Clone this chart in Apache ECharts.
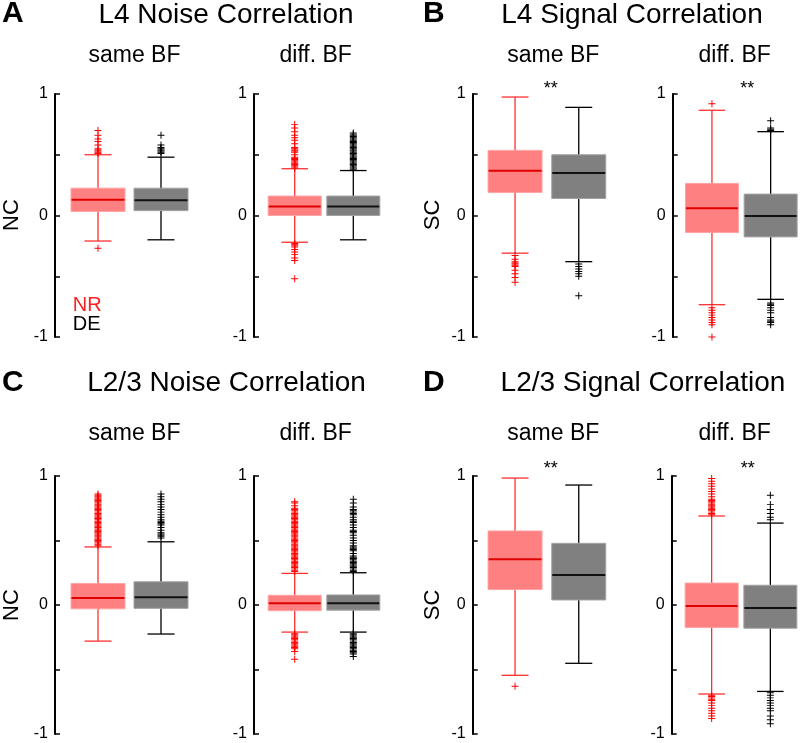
<!DOCTYPE html>
<html><head><meta charset="utf-8">
<script src="https://cdn.jsdelivr.net/npm/echarts@6/dist/echarts.min.js"></script>
<style>html,body{margin:0;padding:0;background:#fff}#c{width:800px;height:743px}</style>
</head><body><div id="c"></div>
<script>
// ---------- DATA ----------
const panelLetters = ['A', 'B', 'C', 'D'];
const panelTitles = ['L4 Noise Correlation', 'L4 Signal Correlation', 'L2/3 Noise Correlation', 'L2/3 Signal Correlation'];
const yNames = ['NC', 'SC', 'NC', 'SC'];
const subTitles = ['same BF', 'diff. BF'];
const groups = ['NR', 'DE'];
const yTickLabels = [-1, 0, 1];

// box stats: [lower whisker, q1, median, q3, upper whisker]
const A_same_NR = [-0.21, 0.033, 0.13, 0.225, 0.50];
const A_same_DE = [-0.20, 0.04, 0.125, 0.225, 0.48];
const A_diff_NR = [-0.22, 0.0, 0.075, 0.16, 0.385];
const A_diff_DE = [-0.20, 0.0, 0.075, 0.16, 0.37];
const B_same_NR = [-0.31, 0.19, 0.368, 0.536, 0.975];
const B_same_DE = [-0.38, 0.14, 0.35, 0.50, 0.89];
const B_diff_NR = [-0.734, -0.14, 0.06, 0.264, 0.866];
const B_diff_DE = [-0.69, -0.176, -0.005, 0.176, 0.69];
const C_same_NR = [-0.28, -0.03, 0.054, 0.166, 0.45];
const C_same_DE = [-0.225, -0.026, 0.06, 0.18, 0.49];
const C_diff_NR = [-0.21, -0.044, 0.013, 0.075, 0.245];
const C_diff_DE = [-0.21, -0.04, 0.013, 0.078, 0.25];
const D_same_NR = [-0.545, 0.12, 0.354, 0.574, 0.984];
const D_same_DE = [-0.452, 0.039, 0.233, 0.478, 0.93];
const D_diff_NR = [-0.69, -0.175, -0.008, 0.17, 0.69];
const D_diff_DE = [-0.67, -0.18, -0.023, 0.153, 0.635];

// outliers
const A_same_NR_out = [0.51, 0.52, 0.53, 0.54, 0.55, 0.58, 0.61, 0.63, 0.66, 0.70, -0.27];
const A_same_DE_out = [0.51, 0.52, 0.53, 0.54, 0.55, 0.56, 0.58, 0.66];
const A_diff_NR_out = [0.39, 0.40, 0.41, 0.42, 0.43, 0.44, 0.45, 0.46, 0.47, 0.48, 0.50, 0.52, 0.53, 0.54, 0.55, 0.56, 0.59, 0.62, 0.64, 0.66, 0.69, 0.72, 0.75,
  -0.23, -0.24, -0.25, -0.26, -0.28, -0.30, -0.32, -0.35, -0.37, -0.52];
const A_diff_DE_out = [0.38, 0.39, 0.40, 0.41, 0.42, 0.43, 0.44, 0.45, 0.46, 0.47, 0.48, 0.49, 0.50, 0.51, 0.52, 0.53, 0.54, 0.55, 0.56, 0.57, 0.58, 0.59, 0.60, 0.61, 0.62, 0.63, 0.64, 0.65, 0.66, 0.67, 0.68];
const B_same_NR_out = [-0.33, -0.36, -0.38, -0.39, -0.40, -0.41, -0.42, -0.45, -0.48, -0.51, -0.55];
const B_same_DE_out = [-0.40, -0.42, -0.44, -0.46, -0.48, -0.50, -0.66];
const B_diff_NR_out = [0.92, -0.76, -0.78, -0.80, -0.82, -0.84, -0.86, -0.88, -0.90, -1.0];
const B_diff_DE_out = [0.70, 0.71, 0.72, 0.78, -0.72, -0.73, -0.74, -0.76, -0.78, -0.80, -0.84, -0.86, -0.87, -0.88, -0.90];
const C_same_NR_out = [0.46, 0.47, 0.48, 0.49, 0.50, 0.51, 0.52, 0.53, 0.54, 0.55, 0.56, 0.57, 0.58, 0.59, 0.60, 0.61, 0.62, 0.63, 0.64, 0.65, 0.66, 0.67, 0.68, 0.69, 0.70, 0.71, 0.72, 0.73, 0.74, 0.75, 0.76, 0.77, 0.78, 0.79, 0.80, 0.81, 0.82, 0.83, 0.84, 0.85, 0.86];
const C_same_DE_out = [0.52, 0.53, 0.54, 0.55, 0.56, 0.58, 0.60, 0.62, 0.63, 0.64, 0.65, 0.66, 0.68, 0.70, 0.72, 0.74, 0.76, 0.78, 0.80, 0.82, 0.84, 0.86];
const C_diff_NR_out = [0.26, 0.27, 0.28, 0.29, 0.30, 0.31, 0.32, 0.33, 0.34, 0.35, 0.36, 0.37, 0.38, 0.39, 0.40, 0.41, 0.42, 0.43, 0.44, 0.45, 0.46, 0.47, 0.48, 0.49, 0.50,
  0.51, 0.52, 0.53, 0.54, 0.55, 0.56, 0.57, 0.58, 0.59, 0.60, 0.61, 0.62, 0.63, 0.64, 0.65, 0.66, 0.67, 0.68, 0.69, 0.70, 0.71, 0.72, 0.73, 0.74, 0.75, 0.77, 0.79, 0.80,
  -0.22, -0.23, -0.24, -0.25, -0.26, -0.27, -0.28, -0.29, -0.30, -0.31, -0.32, -0.33, -0.34, -0.36, -0.42];
const C_diff_DE_out = [0.26, 0.27, 0.28, 0.29, 0.30, 0.31, 0.32, 0.33, 0.34, 0.35, 0.36, 0.37, 0.38, 0.40, 0.42, 0.43, 0.44, 0.45, 0.46, 0.48, 0.50, 0.52, 0.54, 0.56, 0.57,
  0.58, 0.60, 0.62, 0.64, 0.65, 0.66, 0.68, 0.70, 0.71, 0.72, 0.73, 0.74, 0.76, 0.79, 0.82,
  -0.22, -0.23, -0.24, -0.25, -0.26, -0.27, -0.28, -0.29, -0.30, -0.31, -0.32, -0.33, -0.34, -0.35, -0.36, -0.37, -0.38, -0.40];
const D_same_NR_out = [-0.63];
const D_same_DE_out = [];
const D_diff_NR_out = [0.70, 0.71, 0.72, 0.73, 0.74, 0.75, 0.76, 0.77, 0.78, 0.79, 0.80, 0.81, 0.82, 0.84, 0.86, 0.88, 0.90, 0.92, 0.94, 0.96, 0.98,
  -0.70, -0.71, -0.72, -0.73, -0.74, -0.76, -0.78, -0.80, -0.82, -0.84, -0.86, -0.88];
const D_diff_DE_out = [0.66, 0.68, 0.71, 0.74, 0.78, 0.85, -0.68, -0.70, -0.72, -0.74, -0.76, -0.78, -0.80, -0.82, -0.86, -0.89, -0.92];

// significance marks (subplot index)
const starSubplots = [2, 3, 6, 7];

// ---------- LAYOUT ----------
const subplots = [
  {stats: [A_same_NR, A_same_DE], out: [A_same_NR_out, A_same_DE_out]},
  {stats: [A_diff_NR, A_diff_DE], out: [A_diff_NR_out, A_diff_DE_out]},
  {stats: [B_same_NR, B_same_DE], out: [B_same_NR_out, B_same_DE_out]},
  {stats: [B_diff_NR, B_diff_DE], out: [B_diff_NR_out, B_diff_DE_out]},
  {stats: [C_same_NR, C_same_DE], out: [C_same_NR_out, C_same_DE_out]},
  {stats: [C_diff_NR, C_diff_DE], out: [C_diff_NR_out, C_diff_DE_out]},
  {stats: [D_same_NR, D_same_DE], out: [D_same_NR_out, D_same_DE_out]},
  {stats: [D_diff_NR, D_diff_DE], out: [D_diff_NR_out, D_diff_DE_out]}
];
const geo = [
  {left: 66.5, width: 126, top: 94, height: 243, offset: 11.5, bw: 54},
  {left: 265.4, width: 117.2, top: 94, height: 243, offset: 11.4, bw: 53},
  {left: 483.2, width: 127.4, top: 94, height: 243, offset: 10.5, bw: 54},
  {left: 682.6, width: 117.4, top: 94, height: 243, offset: 9.9, bw: 53},
  {left: 66.5, width: 126, top: 476, height: 258, offset: 11.5, bw: 54},
  {left: 265.4, width: 117.2, top: 476, height: 258, offset: 11.4, bw: 53},
  {left: 483.2, width: 127.4, top: 476, height: 258, offset: 10.5, bw: 54},
  {left: 682.3, width: 117.4, top: 476, height: 258, offset: 10.6, bw: 53}
];

const FONT = '"Liberation Sans", Arial, Helvetica, sans-serif';
const styles = [
  {fill: '#ff8080', edge: '#ffa3a3', whisker: '#ff3030', median: '#e00000', out: '#ff0000'},
  {fill: '#808080', edge: '#a3a3a3', whisker: '#000000', median: '#111111', out: '#000000'}
];
const PLUS = 'path://M4.3,0H5.7V4.3H10V5.7H5.7V10H4.3V5.7H0V4.3H4.3Z';

const grids = [], xAxes = [], yAxes = [], series = [];
subplots.forEach((sp, i) => {
  const g = geo[i];
  grids.push({left: g.left, top: g.top, width: g.width, height: g.height, containLabel: false, outerBoundsMode: 'none'});
  xAxes.push({type: 'category', gridIndex: i, data: groups, show: false, boundaryGap: true});
  yAxes.push({
    type: 'value', gridIndex: i, min: -1, max: 1, interval: 0.5, offset: g.offset,
    axisLine: {show: true, onZero: false, lineStyle: {color: '#000', width: 2}},
    axisTick: {show: true, inside: true, length: 5, lineStyle: {color: '#000', width: 1.5}},
    splitLine: {show: false},
    axisLabel: {
      fontSize: 16, color: '#000', fontFamily: FONT, margin: 7,
      formatter: v => (yTickLabels.indexOf(v) >= 0 ? String(v) : '')
    }
  });
  const bw = g.bw;
  series.push({
    type: 'custom', xAxisIndex: i, yAxisIndex: i, z: 2,
    encode: {x: 0, y: [1, 2, 3, 4, 5]},
    data: sp.stats.map((s, k) => [k].concat(s)),
    renderItem: function (params, api) {
      const k = api.value(0);
      const st = styles[k];
      const lo = api.coord([k, api.value(1)]);
      const q1 = api.coord([k, api.value(2)]);
      const md = api.coord([k, api.value(3)]);
      const q3 = api.coord([k, api.value(4)]);
      const hi = api.coord([k, api.value(5)]);
      const cx = lo[0];
      const cw = bw / 2;
      const lw = {stroke: st.whisker, lineWidth: 1.3};
      return {type: 'group', children: [
        {type: 'line', shape: {x1: cx, y1: hi[1], x2: cx, y2: lo[1]}, style: lw},
        {type: 'line', shape: {x1: cx - cw / 2, y1: hi[1], x2: cx + cw / 2, y2: hi[1]}, style: lw},
        {type: 'line', shape: {x1: cx - cw / 2, y1: lo[1], x2: cx + cw / 2, y2: lo[1]}, style: lw},
        {type: 'rect', shape: {x: cx - bw / 2, y: q3[1], width: bw, height: q1[1] - q3[1]},
          style: {fill: st.fill, stroke: st.edge, lineWidth: 1}},
        {type: 'line', shape: {x1: cx - bw / 2 + 0.5, y1: md[1], x2: cx + bw / 2 - 0.5, y2: md[1]},
          style: {stroke: st.median, lineWidth: 2}}
      ]};
    }
  });
  sp.out.forEach((arr, k) => {
    if (!arr.length) return;
    series.push({
      type: 'scatter', xAxisIndex: i, yAxisIndex: i, z: 3,
      symbol: PLUS, symbolSize: 7, symbolKeepAspect: true,
      itemStyle: {color: styles[k].out, opacity: 1},
      data: arr.map(v => [k, v]),
      silent: true, animation: false
    });
  });
});

// ---------- TEXT ----------
const graphic = [];
const letterPos = [[2, 14], [423, 14], [2, 383], [423, 383]];
const titlePos = [[226, 15], [632, 15], [226.5, 383], [643, 383]];
const yNamePos = [[12, 215], [433, 215], [12, 605], [433, 605]];
const subPos = [[134.5, 56], [315.7, 56], [553.3, 56], [734.7, 56], [134.5, 434], [315.7, 434], [553.3, 434], [734.7, 434]];
const starPos = {2: [550.7, 80], 3: [747.3, 80], 6: [550.7, 460], 7: [747.7, 460]};

panelLetters.forEach((L, p) => {
  graphic.push({type: 'text', x: letterPos[p][0], y: letterPos[p][1],
    style: {text: L, font: 'bold 30px ' + FONT, fill: '#000', textAlign: 'left', textVerticalAlign: 'middle'}});
  graphic.push({type: 'text', x: titlePos[p][0], y: titlePos[p][1],
    style: {text: panelTitles[p], font: '28px ' + FONT, fill: '#000', textAlign: 'center', textVerticalAlign: 'middle'}});
  graphic.push({type: 'text', x: yNamePos[p][0], y: yNamePos[p][1], rotation: Math.PI / 2,
    style: {text: yNames[p], font: '22px ' + FONT, fill: '#000', textAlign: 'center', textVerticalAlign: 'middle'}});
});
subPos.forEach((pos, i) => {
  graphic.push({type: 'text', x: pos[0], y: pos[1],
    style: {text: subTitles[i % 2], font: '23px ' + FONT, fill: '#000', textAlign: 'center', textVerticalAlign: 'middle'}});
});
starSubplots.forEach(i => {
  graphic.push({type: 'text', x: starPos[i][0], y: starPos[i][1],
    style: {text: '**', font: '18px ' + FONT, fill: '#000', textAlign: 'center', textVerticalAlign: 'top'}});
});
graphic.push({type: 'text', x: 72.7, y: 305,
  style: {text: groups[0], font: '20px ' + FONT, fill: '#ff2020', textAlign: 'left', textVerticalAlign: 'middle'}});
graphic.push({type: 'text', x: 72.7, y: 324,
  style: {text: groups[1], font: '20px ' + FONT, fill: '#000', textAlign: 'left', textVerticalAlign: 'middle'}});

const chart = echarts.init(document.getElementById('c'), null, {renderer: 'canvas'});
chart.setOption({
  animation: false,
  backgroundColor: '#fff',
  grid: grids, xAxis: xAxes, yAxis: yAxes, series: series, graphic: graphic
});
</script></body></html>
